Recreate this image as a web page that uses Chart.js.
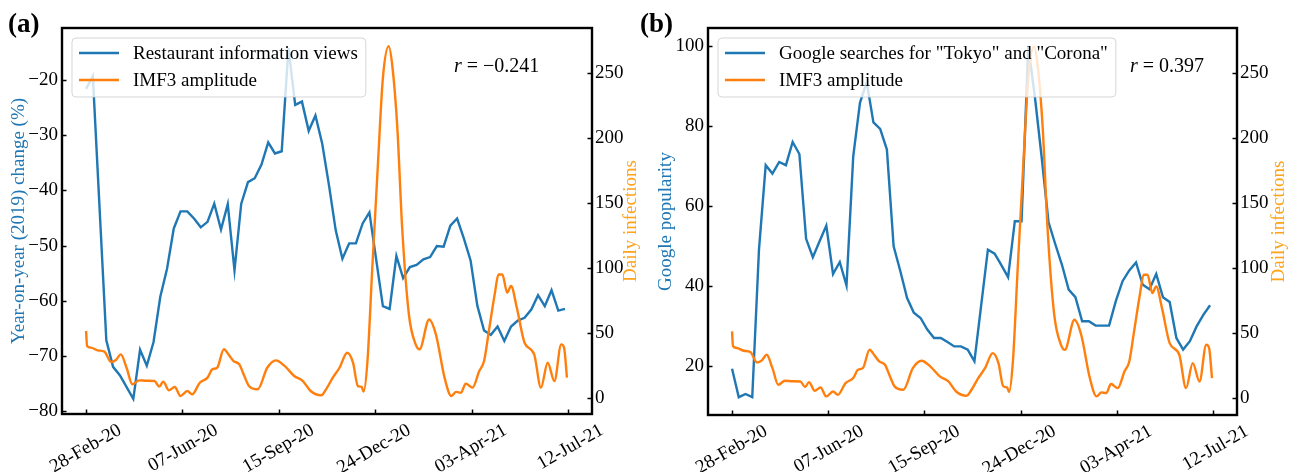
<!DOCTYPE html>
<html>
<head>
<meta charset="utf-8">
<script src="https://cdn.jsdelivr.net/npm/chart.js@4.4.1/dist/chart.umd.min.js"></script>
<style>
  html, body { margin: 0; padding: 0; background: #fff; }
  #wrap { position: relative; width: 1296px; height: 472px; overflow: hidden; }
  canvas { position: absolute; top: 0; }
  #chartA { left: 0; }
  #chartB { left: 648px; }
  .tag { position: absolute; top: 10px; font: bold 27px "Liberation Serif", serif; line-height: 27px; }
</style>
</head>
<body>
<div id="wrap">
  <canvas id="chartA" width="648" height="472"></canvas>
  <canvas id="chartB" width="648" height="472"></canvas>
  <div class="tag" style="left:8px">(a)</div>
  <div class="tag" style="left:640px">(b)</div>
</div>
<script>
// x axis: days since 28-Feb-20
const tickDays = [0, 100, 200, 300, 400, 500];
const tickLabels = ["28-Feb-20", "07-Jun-20", "15-Sep-20", "24-Dec-20", "03-Apr-21", "12-Jul-21"];

// (a) restaurant information views, year-on-year change (%)
const restDays = [0, 7, 21, 28, 35, 49, 56, 63, 70, 77, 84, 91, 98, 105, 112, 119, 126, 133, 140, 147,
  154, 161, 168, 175, 182, 189, 196, 203, 210, 217, 224, 231, 238, 245, 252, 259, 266, 273, 280, 287,
  294, 308, 315, 322, 329, 336, 343, 350, 357, 364, 371, 378, 385, 392, 399, 406, 413, 420, 427, 434,
  441, 448, 455, 462, 469, 476, 483, 490, 497];
const restViews = [-21.6, -19.3, -67.2, -72, -73.5, -77.8, -68.9, -71.8, -67.5, -59.3, -54.2, -46.9, -43.8, -43.8, -45.1, -46.7, -45.7, -42.4, -47.1, -42.5,
  -54.5, -42.4, -38.5, -37.8, -35.3, -31.3, -33.3, -32.9, -14.2, -24.5, -23.9, -29.2, -26.4, -31.5, -39, -47.2, -52.4, -49.6, -49.6, -46,
  -44, -61, -61.5, -51.9, -55.9, -53.9, -53.5, -52.5, -52.1, -50.1, -50.2, -46.4, -45.1, -48.7, -52.7, -60.9, -65.4, -66.2, -64.7, -67.3,
  -64.7, -63.6, -63.1, -61.6, -59, -61, -58.1, -61.8, -61.5];

// (b) Google searches for "Tokyo" and "Corona"
const googleDays = [0, 7, 14, 21, 28, 35, 42, 49, 56, 63, 70, 77, 84, 91, 98, 105, 112, 119, 126, 133,
  140, 147, 154, 161, 168, 175, 182, 189, 196, 203, 210, 217, 224, 231, 238, 245, 252, 266, 273, 280,
  287, 294, 301, 308, 315, 322, 329, 336, 343, 350, 357, 364, 371, 378, 385, 392, 399, 406, 413, 420,
  427, 434, 441, 448, 455, 462, 469, 476, 483, 490, 497];
const googleHits = [19.3, 12.2, 13, 12.2, 49.1, 70.2, 68.1, 71, 70.2, 76, 73, 51.8, 47.2, 51.2, 55.1, 43, 46, 40.1, 72.4, 85.8,
  91, 80.9, 79.3, 74.1, 49.9, 43.7, 37, 33.3, 32, 29.1, 27, 27, 26, 24.9, 24.9, 24.1, 21.2, 49.1, 48.1, 45.2,
  42.2, 56.2, 56.2, 100, 87, 72, 56, 50.5, 45.3, 39.1, 37.2, 31.2, 31.2, 30.1, 30.1, 30.1, 36.2, 41.2, 43.9, 45.9,
  40.3, 39.2, 43, 37.2, 36, 27, 24.1, 26.2, 29.9, 32.8, 35.2];

// IMF3 amplitude of daily infections (same series in both panels)
const imfDays = [0, 1, 5, 12, 19, 26, 31, 36, 42, 48, 55, 63, 71, 76, 80, 86, 92, 98, 105, 110,
  118, 126, 131, 136, 143, 148, 153, 159, 164, 169, 178, 188, 197, 206, 216, 225, 233, 244, 249, 256,
  263, 271, 277, 282, 286, 288, 292, 297, 303, 308, 314, 318, 323, 328, 335, 342, 346, 356, 363, 372,
  379, 384, 389, 394, 401, 408, 413, 418, 424, 428, 432, 437, 441, 447, 455, 465, 472, 479, 486, 493,
  496, 499];
const imfAmp = [51.3, 39.8, 38.5, 36.4, 35.4, 27.4, 29, 33.3, 23, 10.3, 13.3, 13, 12.8, 8.5, 12.3, 5.6, 8.2, 1.3, 5.1, 2.5,
  11.5, 15.4, 21.8, 23, 37.2, 33, 28.2, 25.6, 17, 9, 6.4, 23, 28.7, 24.4, 16.7, 12.8, 5.1, 1.8, 6.4, 15.4,
  23, 34.6, 26.9, 9, 8.2, 4.6, 28.2, 100, 182, 246, 270.5, 254, 207.7, 130.8, 64, 41, 37.2, 60.2, 48.7, 15.4,
  1.3, 4.4, 3.8, 10.8, 7.7, 20.5, 28.2, 51.3, 79.5, 94.8, 94.8, 80.8, 85.9, 69.2, 42.3, 33.3, 7.7, 26.9, 12.8, 41,
  38.5, 15.4];

const blue = "#1f77b4";
const orange = "#ff7f0e";
const serif = '"Liberation Serif", "Times New Roman", serif';
const fontSize = 19;

Chart.defaults.font.family = serif;
Chart.defaults.font.size = fontSize;
Chart.defaults.color = "#000";

const pts = (xs, ys) => xs.map((x, i) => ({ x: x, y: ys[i] }));
const fmt = v => (v < 0 ? "\u2212" + Math.abs(v) : String(v));

// frame, inward ticks, axis titles, legend inside the axes and the r annotation
const decor = {
  id: "decor",
  afterDatasetsDraw(chart, args, opts) {
    const { ctx, chartArea: a, scales } = chart;
    ctx.save();

    ctx.strokeStyle = "#000";
    ctx.lineWidth = 1.5;
    ["x", "yL", "yR"].forEach(id => {
      const s = scales[id];
      s.ticks.forEach(t => {
        const p = Math.round(s.getPixelForValue(t.value)) + 0.5;
        ctx.beginPath();
        if (id === "x") { ctx.moveTo(p, a.bottom); ctx.lineTo(p, a.bottom - 4.5); }
        else if (id === "yL") { ctx.moveTo(a.left, p); ctx.lineTo(a.left + 4.5, p); }
        else { ctx.moveTo(a.right, p); ctx.lineTo(a.right - 4.5, p); }
        ctx.stroke();
      });
    });
    ctx.lineWidth = 2.4;
    ctx.strokeRect(a.left, a.top, a.right - a.left, a.bottom - a.top);

    // axis titles, both reading bottom to top
    const midY = (a.top + a.bottom) / 2;
    ctx.font = fontSize + "px " + serif;
    ctx.textAlign = "center";
    ctx.textBaseline = "middle";
    [[opts.leftTitle, opts.leftTitleX, blue], [opts.rightTitle, opts.rightTitleX, "#ffa31a"]].forEach(([txt, x, col]) => {
      ctx.save();
      ctx.translate(x, midY);
      ctx.rotate(-Math.PI / 2);
      ctx.fillStyle = col;
      ctx.fillText(txt, 0, 0);
      ctx.restore();
    });

    // legend
    const ds = chart.data.datasets;
    ctx.font = fontSize + "px " + serif;
    const textW = Math.max(...ds.map(d => ctx.measureText(d.label).width));
    const bx = a.left + 10, by = a.top + 10, bw = 61 + textW + 8, bh = 59;
    ctx.beginPath();
    ctx.roundRect(bx, by, bw, bh, 4);
    ctx.fillStyle = "rgba(255,255,255,0.8)";
    ctx.fill();
    ctx.strokeStyle = "rgba(204,204,204,0.8)";
    ctx.lineWidth = 1;
    ctx.stroke();
    ds.forEach((d, i) => {
      const y = by + 15 + i * 27;
      ctx.strokeStyle = d.borderColor;
      ctx.lineWidth = 2.4;
      ctx.beginPath();
      ctx.moveTo(bx + 7, y);
      ctx.lineTo(bx + 47, y);
      ctx.stroke();
      ctx.fillStyle = "#000";
      ctx.textAlign = "left";
      ctx.textBaseline = "middle";
      ctx.fillText(d.label, bx + 61, y + 1);
    });

    // correlation text
    ctx.textBaseline = "alphabetic";
    ctx.textAlign = "left";
    ctx.fillStyle = "#000";
    ctx.font = "italic 20px " + serif;
    ctx.fillText("r", opts.rX, opts.rY);
    const rw = ctx.measureText("r").width;
    ctx.font = "20px " + serif;
    ctx.fillText(" = " + opts.rValue, opts.rX + rw, opts.rY);

    ctx.restore();
  }
};

function panel(canvasId, p) {
  const yAxis = (pos, min, max, ticks, width) => ({
    position: pos,
    min: min,
    max: max,
    grid: { display: false, drawTicks: false },
    border: { display: false },
    ticks: { padding: pos === "left" ? 4 : 3, callback: fmt },
    afterBuildTicks: s => { s.ticks = ticks.map(v => ({ value: v })); },
    afterFit: s => { s.width = width; }
  });

  return new Chart(document.getElementById(canvasId), {
    type: "line",
    data: {
      datasets: [
        {
          label: p.blueLabel,
          data: pts(p.blueX, p.blueY),
          yAxisID: "yL",
          borderColor: blue,
          borderWidth: 2.4,
          pointRadius: 0,
          tension: 0,
          order: 1
        },
        {
          label: "IMF3 amplitude",
          data: pts(imfDays, imfAmp),
          yAxisID: "yR",
          borderColor: orange,
          borderWidth: 2.4,
          pointRadius: 0,
          cubicInterpolationMode: "monotone",
          order: 0
        }
      ]
    },
    options: {
      responsive: false,
      animation: false,
      events: [],
      layout: { padding: { top: 28, left: 0, right: 0, bottom: 0 } },
      scales: {
        x: {
          type: "linear",
          min: -25,
          max: 525,
          grid: { display: false, drawTicks: false },
          border: { display: false },
          ticks: {
            autoSkip: false,
            minRotation: 30,
            maxRotation: 30,
            labelOffset: 34,
            padding: 5,
            callback: v => tickLabels[tickDays.indexOf(v)]
          },
          afterBuildTicks: s => { s.ticks = tickDays.map(v => ({ value: v })); },
          afterFit: s => { s.height = p.xHeight; }
        },
        yL: yAxis("left", p.yLMin, p.yLMax, p.yLTicks, p.leftWidth),
        yR: yAxis("right", p.yRMin, 284.6, [0, 50, 100, 150, 200, 250], p.rightWidth)
      },
      plugins: {
        legend: { display: false },
        tooltip: { enabled: false },
        decor: {
          leftTitle: p.leftTitle,
          leftTitleX: p.leftTitleX,
          rightTitle: "Daily infections",
          rightTitleX: p.rightTitleX,
          rX: p.rX,
          rY: 72,
          rValue: p.rValue
        }
      }
    },
    plugins: [decor]
  });
}

panel("chartA", {
  blueLabel: "Restaurant information views",
  blueX: restDays,
  blueY: restViews,
  yLMin: -80.55,
  yLMax: -10.55,
  yLTicks: [-80, -70, -60, -50, -40, -30, -20],
  yRMin: -12.6,
  leftWidth: 62,
  rightWidth: 56,
  xHeight: 58,
  leftTitle: "Year-on-year (2019) change (%)",
  leftTitleX: 19,
  rightTitleX: 631,
  rX: 454,
  rValue: "\u22120.241"
});

panel("chartB", {
  blueLabel: 'Google searches for "Tokyo" and "Corona"',
  blueX: googleDays,
  blueY: googleHits,
  yLMin: 7.75,
  yLMax: 104.5,
  yLTicks: [20, 40, 60, 80, 100],
  yRMin: -13,
  leftWidth: 60,
  rightWidth: 59,
  xHeight: 57,
  leftTitle: "Google popularity",
  leftTitleX: 18.5,
  rightTitleX: 631,
  rX: 482,
  rValue: "0.397"
});
</script>
</body>
</html>
